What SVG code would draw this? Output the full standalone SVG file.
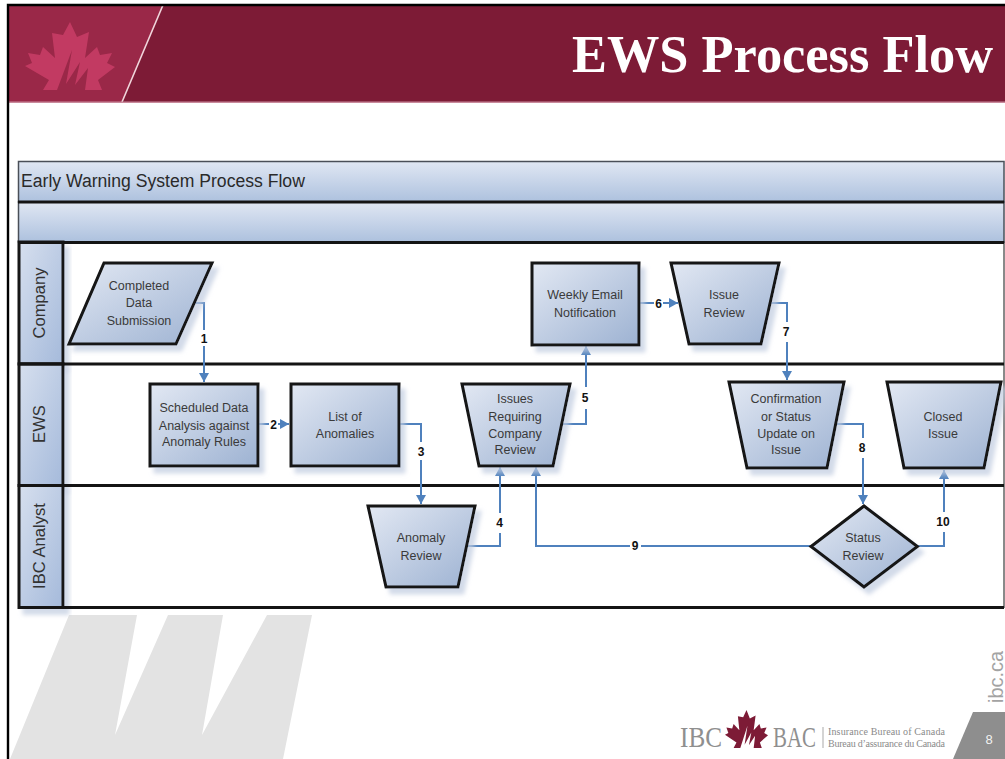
<svg xmlns="http://www.w3.org/2000/svg" width="1005" height="759" viewBox="0 0 1005 759">
<style>
text{font-family:"Liberation Sans",Arial,sans-serif}
.shape{fill:url(#nodeFill);stroke:#141414;stroke-width:3;stroke-linejoin:miter;filter:url(#shadow)}
.n{font-size:12.5px;fill:#3a3a3a;text-anchor:middle}
.lane{fill:url(#laneFill);stroke:#141414;stroke-width:3;filter:url(#shadow)}
.band{fill:url(#bandFill);stroke:#4a4f58;stroke-width:1.500}
.sep{stroke:#141414;stroke-width:3;fill:none}
.lt{font-size:16.6px;fill:#333;text-anchor:middle}
.c{fill:none;stroke:#4f81bd;stroke-width:2;marker-end:url(#arrow)}
.lb{font-size:12px;font-weight:bold;fill:#111;text-anchor:middle}
.mask{fill:#fff}
.sm{font-family:"Liberation Serif",serif;font-size:10px;fill:#8a8a8a}
.logo{font-family:"Liberation Serif",serif;font-size:30px;fill:#8f8f8f}
</style>
<defs>
<linearGradient id="nodeFill" x1="0" y1="0" x2="1" y2="1"><stop offset="0" stop-color="#e2e8f3"/><stop offset="1" stop-color="#9db2d2"/></linearGradient>
<linearGradient id="laneFill" x1="0" y1="0" x2="1" y2="1"><stop offset="0" stop-color="#d6dfee"/><stop offset="1" stop-color="#a5badb"/></linearGradient>
<linearGradient id="bandFill" x1="0" y1="0" x2="0" y2="1"><stop offset="0" stop-color="#e0e7f3"/><stop offset="1" stop-color="#adc1de"/></linearGradient>
<filter id="shadow" x="-15%" y="-15%" width="135%" height="135%"><feDropShadow dx="5" dy="6" stdDeviation="2" flood-color="#c0cbe0" flood-opacity=".7"/></filter>
<marker id="arrow" markerUnits="userSpaceOnUse" markerWidth="11" markerHeight="11" refX="9" refY="5" orient="auto"><path d="M0 0L9 5L0 10Z" fill="#4f81bd"/></marker>
<path id="leaf" d="M70 22L77 37L89 32L85 58L97 47L100 55L112 53L107 63L115 67L98 80L102 90L85 90L88 68L75 85L80 62L66 84L72 50L57 90L43 90L49 80L25 66L32 63L28 53L40 55L43 47L55 58L52 33L63 35Z"/>
</defs>

<rect width="1005" height="759" fill="#fff"/>

<g id="watermark"><path d="M69 615H137L115 735L168 615H223L202 735L267 615H312L283 759H10Z" fill="#e3e3e3"/></g>

<g id="header">
<rect x="8" y="5" width="997" height="97" fill="#7d1b36"/>
<path d="M8 5H163L122 102H8Z" fill="#9a2848"/>
<path d="M163 5L122 102" stroke="#f1d6dc" stroke-width="1.6" fill="none"/>
<rect x="8" y="101.500" width="997" height="1.500" fill="#c98a9c"/>
<use href="#leaf" fill="#c23a62"/>
<text x="572" y="72" font-size="52.400" font-weight="bold" fill="#fff" style="font-family:'Liberation Serif',serif">EWS Process Flow</text>
</g>

<g id="pool">
<rect class="band" x="18.500" y="161.500" width="985.500" height="40.500"/>
<text x="21" y="187" font-size="17.600" fill="#2a2a2a">Early Warning System Process Flow</text>
<rect class="band" x="18.500" y="202" width="985.500" height="40"/>
<path class="sep" d="M18 202H1004"/>
<rect x="19" y="242" width="985" height="365.500" fill="#fff" stroke="#141414" stroke-width="1"/>
</g>

<g id="lane-company"><rect class="lane" x="19" y="242" width="44" height="122"/><text class="lt" transform="translate(45 303) rotate(-90)">Company</text></g>
<g id="lane-ews"><rect class="lane" x="19" y="364" width="44" height="121.500"/><text class="lt" transform="translate(45 424) rotate(-90)">EWS</text></g>
<g id="lane-analyst"><rect class="lane" x="19" y="485.500" width="44" height="122"/><text class="lt" transform="translate(45 546) rotate(-90)">IBC Analyst</text></g>
<g id="lane-lines">
<path class="sep" d="M18 242.500H1004M18 364H1004M18 485.500H1004M18 607.500H1004"/>
</g>

<g id="connectors">
<path class="c" d="M195 303H204V382"/>
<path class="c" d="M258 424H289"/>
<path class="c" d="M399 424H421V504"/>
<path class="c" d="M466 546H500V467"/>
<path class="c" d="M561 424H586V346"/>
<path class="c" d="M639 303H678"/>
<path class="c" d="M770 303H787V380"/>
<path class="c" d="M836 424H863V504"/>
<path class="c" d="M811 546H536V467"/>
<path class="c" d="M917 546H944V470"/>
<rect class="mask" x="199" y="330" width="10" height="16"/><text class="lb" x="204" y="342.500">1</text>
<rect class="mask" x="269" y="418" width="9" height="13"/><text class="lb" x="273.500" y="429">2</text>
<rect class="mask" x="416" y="442" width="10" height="18"/><text class="lb" x="421" y="456">3</text>
<rect class="mask" x="495" y="513" width="10" height="20"/><text class="lb" x="499.500" y="527">4</text>
<rect class="mask" x="581" y="387" width="10" height="22"/><text class="lb" x="585" y="402">5</text>
<rect class="mask" x="654" y="297" width="9" height="13"/><text class="lb" x="658.500" y="307.500">6</text>
<rect class="mask" x="782" y="322" width="10" height="20"/><text class="lb" x="786" y="336">7</text>
<rect class="mask" x="858" y="438" width="10" height="20"/><text class="lb" x="862" y="452">8</text>
<rect class="mask" x="630" y="539" width="11" height="14"/><text class="lb" x="635" y="550">9</text>
<rect class="mask" x="935" y="512" width="17" height="20"/><text class="lb" x="943" y="526">10</text>
</g>

<g id="node-completed"><polygon class="shape" points="104,263 212,263 176,344 69,344"/><text class="n" x="139" y="290">Completed</text><text class="n" x="139" y="307">Data</text><text class="n" x="139" y="325">Submission</text></g>
<g id="node-scheduled"><rect class="shape" x="150" y="384" width="108" height="82"/><text class="n" x="204" y="412">Scheduled Data</text><text class="n" x="204" y="429.500">Analysis against</text><text class="n" x="204" y="446">Anomaly Rules</text></g>
<g id="node-list"><rect class="shape" x="291" y="384" width="108" height="82"/><text class="n" x="345" y="421">List of</text><text class="n" x="345" y="438">Anomalies</text></g>
<g id="node-anomaly-review"><polygon class="shape" points="368,506 475,506 458,587 386,587"/><text class="n" x="421" y="541.500">Anomaly</text><text class="n" x="421" y="560">Review</text></g>
<g id="node-issues"><polygon class="shape" points="462,384 570,384 553,466 479,466"/><text class="n" x="515" y="403">Issues</text><text class="n" x="515" y="421">Requiring</text><text class="n" x="515" y="438">Company</text><text class="n" x="515" y="454">Review</text></g>
<g id="node-weekly"><rect class="shape" x="532" y="263" width="107" height="82"/><text class="n" x="585" y="299">Weekly Email</text><text class="n" x="585" y="316.500">Notification</text></g>
<g id="node-issue-review"><polygon class="shape" points="671,263 779,263 761,344 689,344"/><text class="n" x="724" y="299">Issue</text><text class="n" x="724" y="316.500">Review</text></g>
<g id="node-confirmation"><polygon class="shape" points="729,382 844,382 827,468 747,468"/><text class="n" x="786" y="403">Confirmation</text><text class="n" x="786" y="421">or Status</text><text class="n" x="786" y="438">Update on</text><text class="n" x="786" y="454">Issue</text></g>
<g id="node-closed"><polygon class="shape" points="887,382 1001,382 984,468 904,468"/><text class="n" x="943" y="421">Closed</text><text class="n" x="943" y="438">Issue</text></g>
<g id="node-status"><polygon class="shape" points="864,506 917.500,546.500 864,587 811,546.500"/><text class="n" x="863" y="541.500">Status</text><text class="n" x="863" y="560">Review</text></g>

<g id="footer">
<text class="logo" x="680" y="747" textLength="42" lengthAdjust="spacingAndGlyphs">IBC</text>
<use href="#leaf" fill="#7d1b36" transform="matrix(.478 0 0 .56 713.050 697.700)"/>
<text class="logo" x="773" y="747" textLength="43" lengthAdjust="spacingAndGlyphs">BAC</text>
<rect x="822.500" y="727" width="1" height="21" fill="#aaa"/>
<text class="sm" x="828" y="735" textLength="117">Insurance Bureau of Canada</text>
<text class="sm" x="828" y="747" textLength="117">Bureau d’assurance du Canada</text>
<text transform="translate(1003 703) rotate(-90)" font-size="20" fill="#a3a3a3">ibc.ca</text>
<path d="M973 712H1005V759H953Z" fill="#8e8e8e"/>
<text x="989" y="744" font-size="13" fill="#f2f2f2" text-anchor="middle">8</text>
</g>

<g id="frame"><path d="M8 759V5H1005" fill="none" stroke="#000" stroke-width="2.400"/></g>
</svg>
